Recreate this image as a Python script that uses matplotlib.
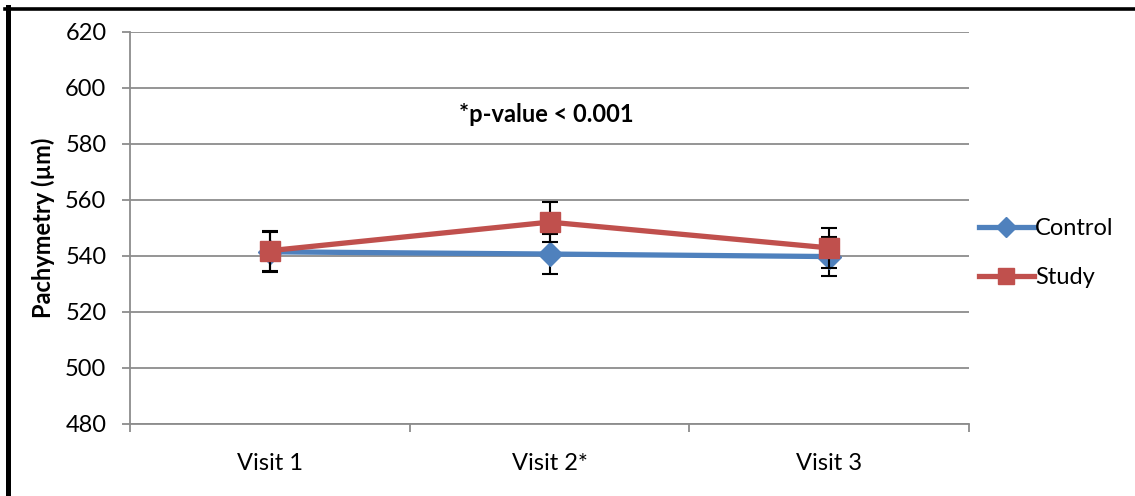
import numpy as np
import matplotlib.pyplot as plt
from matplotlib.lines import Line2D

plt.rcParams['font.family'] = ['Lato', 'DejaVu Sans']

visits = ['Visit 1', 'Visit 2*', 'Visit 3']
control = [541.5, 540.7, 539.8]
study = [541.9, 552.1, 542.9]
control_sd = [7.1, 7.1, 7.1]
study_sd = [7.1, 7.1, 7.1]

blue = '#4F81BD'
red = '#C0504D'
fs = 17

fig = plt.figure(figsize=(11.35, 4.96), dpi=100)
ax = fig.add_axes([130/1135, 1-424/496, 839/1135, 392/496])

xs = np.arange(len(visits))
ax.errorbar(xs, control, yerr=control_sd, color=blue, lw=3.8, marker='D', ms=12,
            mec=blue, mfc=blue, ecolor='black', elinewidth=1.5, capsize=6, capthick=1.5,
            label='Control', zorder=3)
ax.errorbar(xs, study, yerr=study_sd, color=red, lw=3.8, marker='s', ms=14,
            mec=red, mfc=red, ecolor='black', elinewidth=1.5, capsize=6, capthick=1.5,
            label='Study', zorder=4)

ax.set_xlim(-0.5, 2.5)
ax.set_ylim(480, 620)
ax.set_yticks(np.arange(480, 621, 20))
ax.yaxis.grid(True, color='#8c8c8c', lw=1.3)
ax.set_axisbelow(True)

# category boundaries as major ticks, labels on minor ticks
ax.set_xticks([-0.5, 0.5, 1.5, 2.5])
ax.set_xticklabels([])
ax.set_xticks(xs, minor=True)
ax.set_xticklabels(visits, minor=True)
ax.tick_params(axis='x', which='minor', length=0, pad=21, labelsize=fs)
ax.tick_params(axis='x', which='major', length=6, width=1.3, color='#8c8c8c')
ax.tick_params(axis='y', length=6, width=1.3, color='#8c8c8c', pad=11, labelsize=fs)

for s in ['top', 'right']:
    ax.spines[s].set_visible(False)
for s in ['left', 'bottom']:
    ax.spines[s].set_color('#8c8c8c')
    ax.spines[s].set_linewidth(1.3)

ax.set_ylabel('Pachymetry (µm)', fontsize=fs, fontweight='bold', labelpad=7)
ax.text((546-130)/839, 0.79, '*p-value < 0.001', transform=ax.transAxes, ha='center',
        va='center', fontsize=fs, fontweight='bold')

handles = [Line2D([], [], color=blue, lw=3.8, marker='D', ms=10),
           Line2D([], [], color=red, lw=3.8, marker='s', ms=12)]
fig.legend(handles, ['Control', 'Study'], loc='center left',
           bbox_to_anchor=(958/1135, 1-253/496), frameon=False, fontsize=fs,
           handlelength=2.3, handletextpad=0.05, labelspacing=1.2)

# frame lines along the top and left edges
fig.add_artist(Line2D([5/1135, 1], [1-8.5/496, 1-8.5/496], color='black', lw=2.6))
fig.add_artist(Line2D([7.5/1135, 7.5/1135], [0, 1-7/496], color='black', lw=3.6))

fig.savefig('out.png', dpi=100)
